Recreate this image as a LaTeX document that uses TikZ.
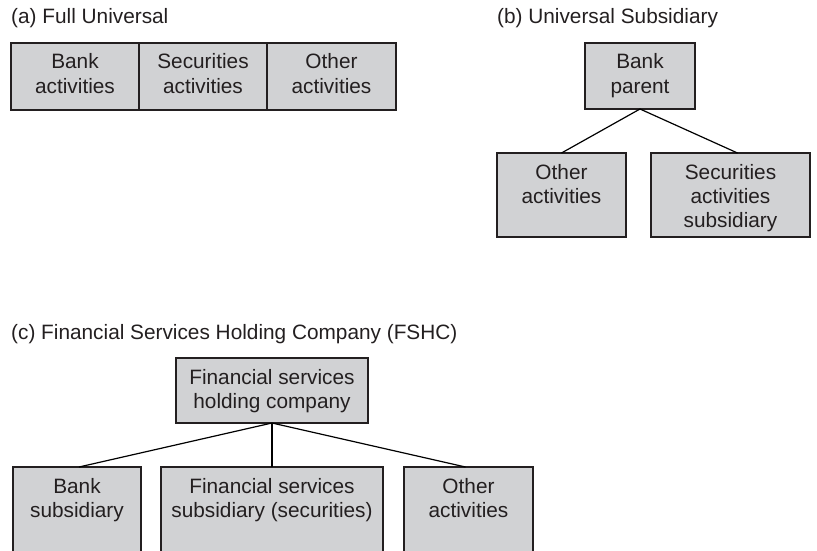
\documentclass[tikz,border=0pt]{standalone}
\usepackage{fontspec}
\usepackage{xcolor}
\usepackage{tikz}
\usetikzlibrary{positioning}
\newfontfamily\diagfont{Liberation Sans}
\definecolor{boxfill}{RGB}{209,210,212}
\definecolor{inkgray}{RGB}{35,31,32}
\newcommand{\lines}[1]{\begin{tabular}[t]{@{}c@{}}#1\end{tabular}}

\begin{document}
\begin{tikzpicture}[
    x=1pt, y=-1pt,
    node distance=0pt,
    every node/.style={font=\diagfont\fontsize{20.8}{24.4}\selectfont, text=inkgray},
    title/.style={anchor=base west, inner sep=0pt},
    unit/.style={draw=inkgray, fill=boxfill, line width=1.6pt, inner sep=0pt, outer sep=0pt, text height=26pt, anchor=north west},
    link/.style={draw=black, line width=1.2pt},
]
\useasboundingbox (0,0) rectangle (817,551);
\clip (0,0) rectangle (817,551);

\node[title] (ttla) at (11,24)  {(a) Full Universal};
\node[title] (ttlb) at (497,24) {(b) Universal Subsidiary};
\node[title] (ttlc) at (11,339) {(c) Financial Services Holding Company (FSHC)};

\node[unit, minimum width=128pt, text depth=41pt] (bankact) at (11,43) {\lines{Bank\\activities}};
\node[unit, minimum width=128pt, text depth=41pt, right=of bankact] (secact) {\lines{Securities\\activities}};
\node[unit, minimum width=129pt, text depth=41pt, right=of secact] (othact) {\lines{Other\\activities}};

\node[unit, minimum width=110pt, text depth=40pt] (bankpar) at (585,43) {\lines{Bank\\parent}};
\node[unit, minimum width=129pt, text depth=58pt] (othsub) at (497,153) {\lines{Other\\activities}};
\node[unit, minimum width=159pt, text depth=58pt] (secsub) at (651,153) {\lines{Securities\\activities\\subsidiary}};

\node[unit, minimum width=192pt, text depth=39pt] (fshc) at (176,358) {\lines{Financial services\\holding company}};
\node[unit, minimum width=128pt, text depth=67pt] (banksub) at (13,467) {\lines{Bank\\subsidiary}};
\node[unit, minimum width=222pt, text depth=67pt] (finsub) at (161,467) {\lines{Financial services\\subsidiary (securities)}};
\node[unit, minimum width=129pt, text depth=67pt] (othfs) at (404,467) {\lines{Other\\activities}};

\draw[link] (bankpar.south) -- (othsub.north);
\draw[link] (bankpar.south) -- ([xshift=7pt]secsub.north);
\draw[link] (fshc.south) -- ([xshift=2pt]banksub.north);
\draw[link] (fshc.south) -- (finsub.north);
\draw[link] (fshc.south) -- ([xshift=-3pt]othfs.north);
\end{tikzpicture}
\end{document}
